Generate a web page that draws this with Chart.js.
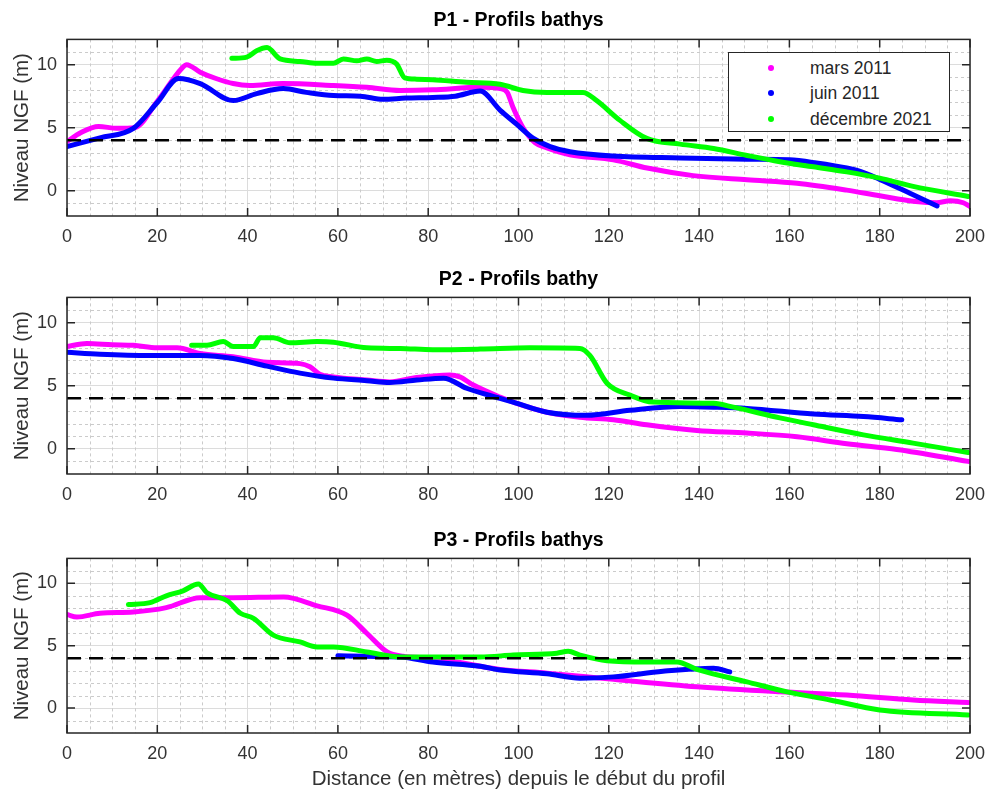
<!DOCTYPE html>
<html><head><meta charset="utf-8">
<script src="https://cdn.jsdelivr.net/npm/chart.js@4.4.1/dist/chart.umd.min.js"></script>
<style>
body{margin:0;background:#fff;width:987px;height:792px;position:relative;overflow:hidden;}
canvas{position:absolute;left:0;}
#legend{position:absolute;left:728px;top:52px;width:220px;height:78px;border:1.5px solid #262626;background:#fff;font-family:"Liberation Sans",Arial,sans-serif;font-size:17.5px;color:#262626;}
#legend .row{position:absolute;left:0;height:20px;line-height:20px;}
#legend .dot{position:absolute;left:39px;top:7px;width:6px;height:6px;border-radius:50%;}
#legend .txt{position:absolute;left:81px;top:0;white-space:nowrap;}
</style></head><body>
<canvas id="c1" width="987" height="260" style="top:0px"></canvas>
<canvas id="c2" width="987" height="260" style="top:260px"></canvas>
<canvas id="c3" width="987" height="272" style="top:520px"></canvas>
<div id="legend"></div>
<script>
// ---- labels / ticks ----
const seriesNames = ['mars 2011', 'juin 2011', 'décembre 2021'];
const seriesColors = ['#ff00ff', '#0000ff', '#00ff00'];
const panelTitles = ['P1 - Profils bathys', 'P2 - Profils bathy', 'P3 - Profils bathys'];
const xTicks = [0, 20, 40, 60, 80, 100, 120, 140, 160, 180, 200];
const yTicks = [0, 5, 10];
const refX = [0, 200];
const refY = [4, 4];

// ---- P1 ----
const p1MarsX = [0, 3, 7, 11, 15, 20, 25.4, 26.5, 29.5, 33, 36.8, 40.5, 47.8, 59, 66.4, 73.8, 81, 91.5, 96, 97.5, 98.8, 101, 103.7, 106.3, 111.4, 121, 128.5, 138.7, 150.6, 161.7, 172.7, 180, 188, 192.6, 195.6, 198.5, 200];
const p1MarsY = [3.9, 4.6, 5.1, 4.95, 5.0, 7.1, 9.7, 10.0, 9.4, 8.9, 8.5, 8.35, 8.5, 8.35, 8.2, 7.95, 8.0, 8.2, 8.1, 7.8, 6.6, 5.0, 3.8, 3.4, 2.85, 2.45, 1.8, 1.2, 0.87, 0.6, 0.05, -0.4, -0.85, -0.95, -0.8, -0.95, -1.25];
const p1JuinX = [0, 7.3, 14.7, 20, 24.7, 29.5, 36.8, 42, 47.9, 53, 59, 65, 70, 75, 81, 86, 91.5, 95.9, 99.5, 103.3, 107, 111.4, 121, 135.8, 150.6, 160, 166, 172.7, 176, 180, 186.7, 192.7];
const p1JuinY = [3.5, 4.2, 4.95, 7.0, 8.9, 8.5, 7.15, 7.7, 8.1, 7.8, 7.55, 7.5, 7.25, 7.35, 7.4, 7.5, 7.9, 6.4, 5.3, 4.15, 3.5, 3.1, 2.75, 2.6, 2.5, 2.45, 2.2, 1.8, 1.5, 0.9, -0.2, -1.2];
const p1DecX = [36.5, 39.8, 42, 44.3, 47.2, 51.6, 55.4, 59, 61.2, 64.2, 66.4, 68.6, 70.8, 73, 74.8, 77.4, 81, 88.5, 95.9, 101, 106.3, 114.3, 117.3, 122.4, 128.4, 135.8, 143.2, 150.6, 157.9, 165.3, 172.7, 180, 187.4, 199.6];
const p1DecY = [10.5, 10.6, 11.1, 11.35, 10.45, 10.25, 10.1, 10.1, 10.45, 10.3, 10.45, 10.25, 10.35, 10.05, 8.95, 8.85, 8.8, 8.6, 8.45, 7.95, 7.8, 7.8, 7.15, 5.6, 4.15, 3.7, 3.35, 2.8, 2.3, 1.9, 1.5, 1.0, 0.35, -0.45];

// ---- P2 ----
const p2MarsX = [0, 4.4, 10, 14.7, 20, 24.4, 29.5, 36.8, 44.3, 51.6, 53.8, 56, 59, 66.4, 71.5, 77.5, 84.8, 87, 90, 95.9, 98.8, 106.3, 113.6, 121, 128.4, 139.5, 150.6, 161.7, 172.7, 183.8, 199.6];
const p2MarsY = [8.1, 8.35, 8.25, 8.2, 8.0, 8.0, 7.55, 7.3, 6.85, 6.75, 6.5, 5.9, 5.7, 5.45, 5.3, 5.65, 5.85, 5.7, 5.05, 4.1, 3.7, 2.9, 2.5, 2.3, 1.9, 1.45, 1.25, 0.95, 0.4, -0.05, -1.0];
const p2JuinX = [0, 7.3, 18.4, 29.5, 36.8, 44.3, 51.6, 59, 66.4, 71.5, 77.5, 83.4, 88.5, 95.9, 98.8, 106.3, 115.1, 124.7, 135.8, 143.2, 150.6, 165.3, 176.4, 184.9];
const p2JuinY = [7.65, 7.5, 7.4, 7.4, 7.15, 6.55, 6.0, 5.6, 5.4, 5.25, 5.45, 5.6, 4.8, 4.0, 3.7, 2.9, 2.65, 3.05, 3.35, 3.3, 3.2, 2.75, 2.55, 2.3];
const p2DecX = [27.6, 31, 34.6, 36.8, 41.3, 42.8, 45.7, 49.4, 55.4, 59, 66.4, 73.8, 81, 91.5, 102.5, 113.6, 115.8, 119.6, 124.7, 129.8, 143.2, 147.6, 157.9, 165.3, 176.4, 187.4, 199.6];
const p2DecY = [8.2, 8.2, 8.5, 8.1, 8.1, 8.8, 8.8, 8.4, 8.5, 8.45, 8.0, 7.95, 7.85, 7.9, 8.0, 7.95, 7.4, 5.2, 4.25, 3.7, 3.6, 3.3, 2.45, 1.9, 1.1, 0.45, -0.3];

// ---- P3 ----
const p3MarsX = [0, 2.2, 7.3, 14.7, 22, 29.5, 36.8, 48, 55.4, 62, 66.4, 70.9, 74.4, 81, 95.9, 106.3, 121, 139.5, 157.9, 172.7, 187.4, 199.6];
const p3MarsY = [7.5, 7.3, 7.6, 7.7, 8.05, 8.85, 8.85, 8.9, 8.2, 7.45, 6.0, 4.5, 4.15, 4.0, 3.1, 2.8, 2.3, 1.7, 1.3, 1.05, 0.65, 0.45];
const p3JuinX = [60, 66.4, 73.8, 81, 91.5, 96, 106.3, 113.6, 121, 132, 143.2, 146.8];
const p3JuinY = [4.2, 4.15, 4.1, 3.7, 3.35, 3.05, 2.75, 2.4, 2.5, 2.95, 3.2, 2.9];
const p3DecX = [13.6, 18.4, 22, 25.7, 29.1, 31, 35.5, 38.4, 41.3, 45.7, 51.6, 55.4, 59, 66.4, 73.8, 81, 91.5, 98.8, 108.5, 111, 113.6, 119.6, 128.4, 135.1, 139.5, 150.6, 159.5, 169, 180, 199.6];
const p3DecY = [8.3, 8.45, 9.0, 9.4, 9.95, 9.25, 8.6, 7.6, 7.2, 5.85, 5.3, 4.9, 4.9, 4.5, 4.1, 4.1, 4.1, 4.25, 4.4, 4.55, 4.25, 3.8, 3.7, 3.7, 3.1, 2.1, 1.3, 0.65, -0.15, -0.55];

const FONT = '"Liberation Sans", Arial, Helvetica, sans-serif';
const toPts = (xs, ys) => xs.map((v, i) => ({x: v, y: ys[i]}));

const framePlugin = {
  id: 'frame',
  beforeDatasetsDraw(chart) {
    const {ctx, chartArea: a, scales: {x, y}} = chart;
    ctx.save();
    ctx.strokeStyle = '#cbcbcb';
    ctx.lineWidth = 1;
    ctx.setLineDash([3, 3]);
    for (let v = 0; v <= 200; v += 5) {
      if (v % 20 === 0) continue;
      const px = Math.round(x.getPixelForValue(v)) + 0.5;
      ctx.beginPath(); ctx.moveTo(px, a.top); ctx.lineTo(px, a.bottom); ctx.stroke();
    }
    for (let v = -1; v <= 11; v += 1) {
      if (v % 5 === 0) continue;
      const py = Math.round(y.getPixelForValue(v)) + 0.5;
      ctx.beginPath(); ctx.moveTo(a.left, py); ctx.lineTo(a.right, py); ctx.stroke();
    }
    ctx.restore();
  },
  afterDatasetsDraw(chart) {
    const {ctx, chartArea: a, scales: {x, y}} = chart;
    ctx.save();
    ctx.strokeStyle = '#262626';
    ctx.lineWidth = 1.5;
    ctx.setLineDash([]);
    ctx.strokeRect(a.left, a.top, a.right - a.left, a.bottom - a.top);
    const tl = 8;
    xTicks.forEach(v => {
      const px = x.getPixelForValue(v);
      ctx.beginPath();
      ctx.moveTo(px, a.bottom); ctx.lineTo(px, a.bottom - tl);
      ctx.moveTo(px, a.top); ctx.lineTo(px, a.top + tl);
      ctx.stroke();
    });
    yTicks.forEach(v => {
      const py = y.getPixelForValue(v);
      ctx.beginPath();
      ctx.moveTo(a.left, py); ctx.lineTo(a.left + tl, py);
      ctx.moveTo(a.right, py); ctx.lineTo(a.right - tl, py);
      ctx.stroke();
    });
    ctx.restore();
  }
};

function buildChart(id, title, series, cfg) {
  const datasets = series.map((s, i) => ({
    label: seriesNames[i],
    data: toPts(s[0], s[1]),
    borderColor: seriesColors[i],
    backgroundColor: seriesColors[i],
    borderWidth: 5,
    pointRadius: 0,
    showLine: true,
    cubicInterpolationMode: 'monotone',
    borderCapStyle: 'round',
    borderJoinStyle: 'round',
    order: 3 - i
  }));
  datasets.push({
    label: 'ref',
    data: toPts(refX, refY),
    borderColor: '#000000',
    borderWidth: 2.5,
    borderDash: [14, 8],
    pointRadius: 0,
    showLine: true,
    order: 0
  });
  return new Chart(document.getElementById(id), {
    type: 'scatter',
    data: {datasets},
    plugins: [framePlugin],
    options: {
      responsive: false,
      animation: false,
      devicePixelRatio: 1,
      layout: {padding: {left: 0, right: 17, top: 0, bottom: 0}},
      plugins: {
        legend: {display: false},
        tooltip: {enabled: false},
        title: {
          display: true, text: title, fullSize: false, color: '#000',
          font: {family: FONT, size: 19.5, weight: 'bold'},
          padding: {top: cfg.tTop, bottom: cfg.tBot}
        }
      },
      scales: {
        x: {
          type: 'linear', min: 0, max: 200,
          afterBuildTicks: s => { s.ticks = xTicks.map(v => ({value: v})); },
          afterFit: s => { s.height = cfg.xh; s.paddingLeft = 0; s.paddingRight = 0; },
          grid: {color: '#dcdcdc', lineWidth: 1, drawTicks: false},
          border: {display: false},
          ticks: {padding: 10, color: '#333333', font: {family: FONT, size: 18}, maxRotation: 0, autoSkip: false},
          title: cfg.xTitle ? {display: true, text: cfg.xTitle, color: '#333333', font: {family: FONT, size: 20.5}, padding: {top: 0, bottom: 0}} : {display: false}
        },
        y: {
          type: 'linear', min: -2, max: 12,
          afterBuildTicks: s => { s.ticks = yTicks.map(v => ({value: v})); },
          afterFit: s => { s.width = 67; s.paddingTop = 0; s.paddingBottom = 0; },
          grid: {color: '#dcdcdc', lineWidth: 1, drawTicks: false},
          border: {display: false},
          ticks: {padding: 10, color: '#333333', font: {family: FONT, size: 18}, autoSkip: false},
          title: {display: true, text: 'Niveau NGF (m)', color: '#333333', font: {family: FONT, size: 20.5}, padding: {top: 10, bottom: 0}}
        }
      }
    }
  });
}

buildChart('c1', panelTitles[0], [[p1MarsX, p1MarsY], [p1JuinX, p1JuinY], [p1DecX, p1DecY]], {tTop: 9, tBot: 7, xh: 44});
buildChart('c2', panelTitles[1], [[p2MarsX, p2MarsY], [p2JuinX, p2JuinY], [p2DecX, p2DecY]], {tTop: 8, tBot: 6, xh: 46});
buildChart('c3', panelTitles[2], [[p3MarsX, p3MarsY], [p3JuinX, p3JuinY], [p3DecX, p3DecY]], {tTop: 9, tBot: 6, xh: 59, xTitle: 'Distance (en mètres) depuis le début du profil'});

// legend (HTML, inside panel 1)
const leg = document.getElementById('legend');
const rowTops = [5, 30, 56];
seriesNames.forEach((n, i) => {
  const r = document.createElement('div');
  r.className = 'row';
  r.style.top = rowTops[i] + 'px';
  r.style.width = '100%';
  const d = document.createElement('span');
  d.className = 'dot';
  d.style.background = seriesColors[i];
  const t = document.createElement('span');
  t.className = 'txt';
  t.textContent = n;
  r.appendChild(d); r.appendChild(t);
  leg.appendChild(r);
});
</script>
</body></html>
